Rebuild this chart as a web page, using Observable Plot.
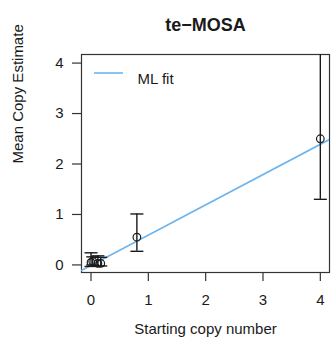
<!DOCTYPE html>
<html>
<head>
<meta charset="utf-8">
<script src="https://cdn.jsdelivr.net/npm/d3@7"></script>
<script src="https://cdn.jsdelivr.net/npm/@observablehq/plot@0.6"></script>
<style>
  html, body { margin: 0; padding: 0; background: #fff; }
</style>
</head>
<body>
<div id="chart"></div>
<script>
// Data
const startCopy = [0, 0.03, 0.12, 0.17, 0.8, 4];
const meanCopy  = [0.05, 0.07, 0.03, 0.03, 0.55, 2.5];
const lowerCI   = [-0.03, 0.0, -0.02, -0.02, 0.27, 1.3];
const upperCI   = [0.24, 0.16, 0.18, 0.15, 1.01, 4.4];
const fitX = [-0.17, 4.2];
const fitY = [-0.11, 2.51];
const xTicks = [0, 1, 2, 3, 4];
const yTicks = [0, 1, 2, 3, 4];
const titleText = "te\u2212MOSA";
const xLabel = "Starting copy number";
const yLabel = "Mean Copy Estimate";
const legendLabel = "ML fit";

const points = startCopy.map((x, i) => ({x, mean: meanCopy[i], lo: lowerCI[i], hi: upperCI[i]}));
const fit = fitX.map((x, i) => ({x, y: fitY[i]}));

const ink = "#1a1a1a";
const fitColor = "#6cb4ee";
const cap = {draw(ctx) { ctx.moveTo(-6.5, 0); ctx.lineTo(6.5, 0); }};

const chart = Plot.plot({
  width: 331,
  height: 350,
  marginLeft: 81,
  marginRight: 2,
  marginTop: 54,
  marginBottom: 78,
  style: {fontFamily: "'Liberation Sans', Arial, sans-serif", fontSize: "15px", background: "#fff", color: ink},
  x: {domain: [-0.166, 4.16], label: null},
  y: {domain: [-0.15, 4.17], label: null},
  marks: [
    Plot.frame({stroke: "#333", strokeWidth: 1.2}),
    Plot.axisX({ticks: xTicks, tickFormat: d3.format("d"), tickSize: 9, tickPadding: 13, label: null, fontSize: 15, stroke: "#333", strokeWidth: 1.2}),
    Plot.axisY({ticks: yTicks, tickFormat: d3.format("d"), tickSize: 9, tickPadding: 9, label: null, fontSize: 15, stroke: "#333", strokeWidth: 1.2}),
    Plot.line(fit, {x: "x", y: "y", stroke: fitColor, strokeWidth: 1.6, clip: true}),
    Plot.ruleX(points, {x: "x", y1: "lo", y2: "hi", stroke: ink, strokeWidth: 1.4, clip: true}),
    Plot.dot(points, {x: "x", y: "hi", symbol: cap, stroke: ink, fill: "none", strokeWidth: 1.4, clip: true}),
    Plot.dot(points, {x: "x", y: "lo", symbol: cap, stroke: ink, fill: "none", strokeWidth: 1.4, clip: true}),
    Plot.dot(points, {x: "x", y: "mean", r: 3.8, stroke: ink, fill: "none", strokeWidth: 1.2}),
    Plot.text([titleText], {frameAnchor: "top", dy: -36, fontWeight: "bold", fontSize: 18, fill: ink}),
    Plot.text([xLabel], {frameAnchor: "bottom", dy: 61, fontSize: 15, fill: ink}),
    Plot.text([yLabel], {frameAnchor: "left", dx: -63, rotate: -90, fontSize: 15, fill: ink}),
    Plot.text([legendLabel], {frameAnchor: "top-left", dx: 56, dy: 19, textAnchor: "start", fontSize: 15, fill: ink})
  ]
});

// legend sample line
d3.select(chart).append("line")
  .attr("x1", 94).attr("x2", 123).attr("y1", 73).attr("y2", 73)
  .attr("stroke", fitColor).attr("stroke-width", 1.6);

document.getElementById("chart").appendChild(chart);
</script>
</body>
</html>
